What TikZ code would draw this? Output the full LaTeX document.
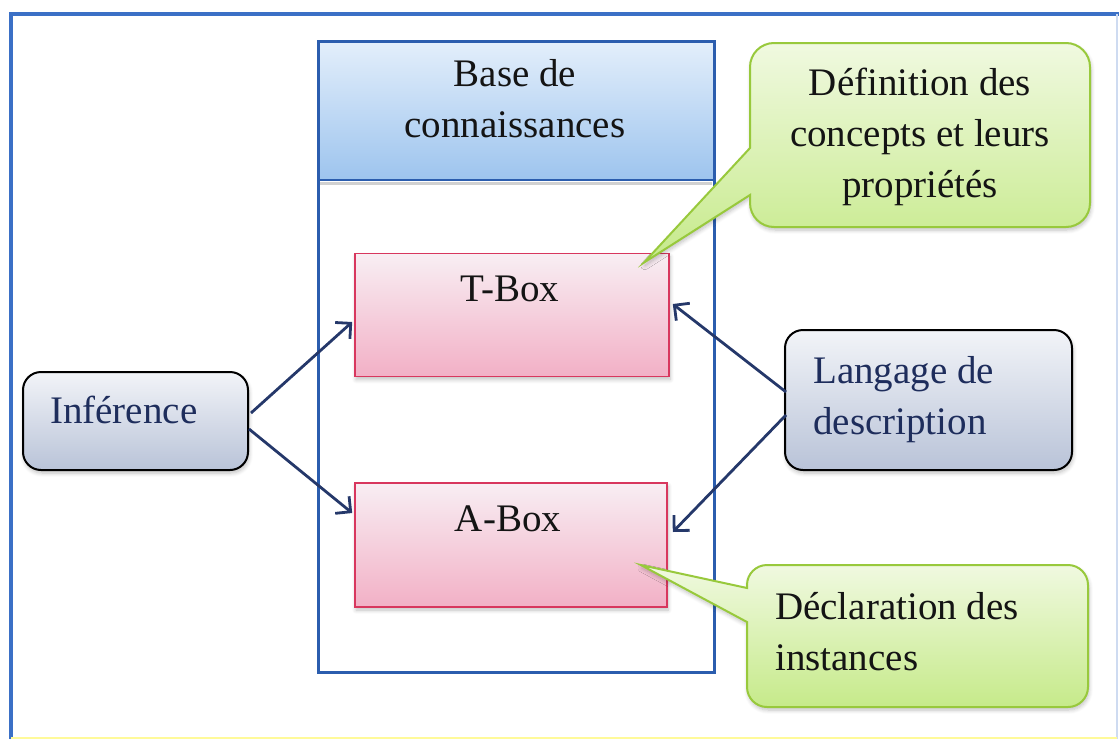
\documentclass[tikz,border=0pt]{standalone}
\usepackage{fontspec}
\setmainfont{Liberation Serif}
\usetikzlibrary{arrows.meta,calc,shadows.blur}
\definecolor{frameblue}{HTML}{3B70C6}
\definecolor{kbblue}{HTML}{2B5DAE}
\definecolor{hdtop}{HTML}{E4EFFB}
\definecolor{hdbot}{HTML}{9DC4EE}
\definecolor{pinktop}{HTML}{F8EEF3}
\definecolor{pinkbot}{HTML}{F2B0C6}
\definecolor{pinkline}{HTML}{D8375E}
\definecolor{greytop}{HTML}{F2F4F8}
\definecolor{greybot}{HTML}{B9C3D8}
\definecolor{greentop}{HTML}{F0F9E0}
\definecolor{greenbot}{HTML}{C6EA8A}
\definecolor{greenline}{HTML}{98C93C}
\definecolor{navy}{HTML}{1E2D5C}
\definecolor{arrowc}{HTML}{25386A}
\definecolor{ink}{HTML}{141414}

\begin{document}
\begin{tikzpicture}[x=1pt,y=-1pt,
  txt/.style={font=\fontsize{39}{51}\selectfont, inner sep=0pt, text=ink},
  navytxt/.style={txt, text=navy},
  boxshadow/.style={blur shadow={shadow xshift=1pt, shadow yshift=-3pt,
      shadow blur steps=6, shadow opacity=25, shadow blur radius=4pt}},
  kbox/.style={draw=pinkline, line width=1.6pt, top color=pinktop,
      bottom color=pinkbot, inner sep=0pt, boxshadow},
  gbox/.style={draw=black, line width=2pt, rounded corners=18pt,
      top color=greytop, bottom color=greybot, inner sep=0pt, boxshadow},
  bubble/.style={draw=greenline, line width=2pt, top color=greentop,
      bottom color=greenbot, boxshadow},
  link/.style={draw=arrowc, line width=2.8pt,
      -{Straight Barb[length=11pt, width=22pt, line width=2.8pt]}},
]
\useasboundingbox (0,0) rectangle (1119,739);

% page frame
\draw[frameblue, line width=4pt] (11,739) -- (11,14) -- (1119,14);
\draw[frameblue!25, line width=1.5pt] (1117,14) -- (1117,739);
\draw[yellow!40!white, line width=1.5pt] (11,738) -- (1117,738);

% knowledge base container with its header
\path[top color=hdtop, bottom color=hdbot] (317,40) rectangle (713,180);
\draw[black!18, line width=3pt] (318,183) -- (712,183);
\draw[kbblue, line width=2pt] (317,180) -- (713,180);
\node[draw=kbblue, line width=2.5pt, minimum width=396pt, minimum height=631pt,
      inner sep=0pt, anchor=north west] (kb) at (317,40) {};
% (base anchor of a multi-line node = baseline of its last line)
\node[txt, align=center, anchor=base] (kbtitle) at (515,137) {Base de\\connaissances};

% T-Box and A-Box
\node[kbox, minimum width=314pt, minimum height=123pt] (tbox) at (512,315) {};
\node[txt, anchor=base] (tboxlabel) at (510,301) {T-Box};
\node[kbox, minimum width=312pt, minimum height=124pt] (abox) at (511,545) {};
\node[txt, anchor=base] (aboxlabel) at (508,531) {A-Box};

% inference and description language
\node[gbox, minimum width=225pt, minimum height=98pt] (inf) at (135.5,421) {};
\node[navytxt, anchor=base west] (inflabel) at (50,423) {Inférence};
\node[gbox, minimum width=287pt, minimum height=140pt] (lang) at (928.5,400) {};
\node[navytxt, align=left, anchor=base west] (langlabel) at (813,434) {Langage de\\description};

% connectors
\draw[link] ($(inf.east)+(2,-8)$) -- ($(tbox.west)+(-2,7)$);
\draw[link] ($(inf.east)+(0,8)$) -- ($(abox.west)+(-2,-32)$);
\draw[link] ($(lang.west)+(2,-8)$) -- ($(tbox.east)+(3,-11)$);
\draw[link] ($(lang.west)+(2,15)$) -- ($(abox.east)+(5,-13)$);

% callouts
\coordinate (tboxtip) at ($(tbox.north east)+(-26,10)$);
\path[bubble] (tboxtip) -- (750,195) [rounded corners=24pt] -- (750,227) -- (1090,227)
   -- (1090,43) -- (750,43) [sharp corners] -- (750,148) -- cycle;
\node[txt, align=center, anchor=base] (deflabel) at (920,197)
   {Définition des\\concepts et leurs\\propriétés};

\coordinate (aboxtip) at ($(abox.east)+(-27,20)$);
\path[bubble] (aboxtip) -- (747,622) [rounded corners=20pt] -- (747,707) -- (1088,707)
   -- (1088,565) -- (747,565) [sharp corners] -- (747,588) -- cycle;
\node[txt, align=left, anchor=base west] (decllabel) at (775,670)
   {Déclaration des\\instances};
\end{tikzpicture}
\end{document}
